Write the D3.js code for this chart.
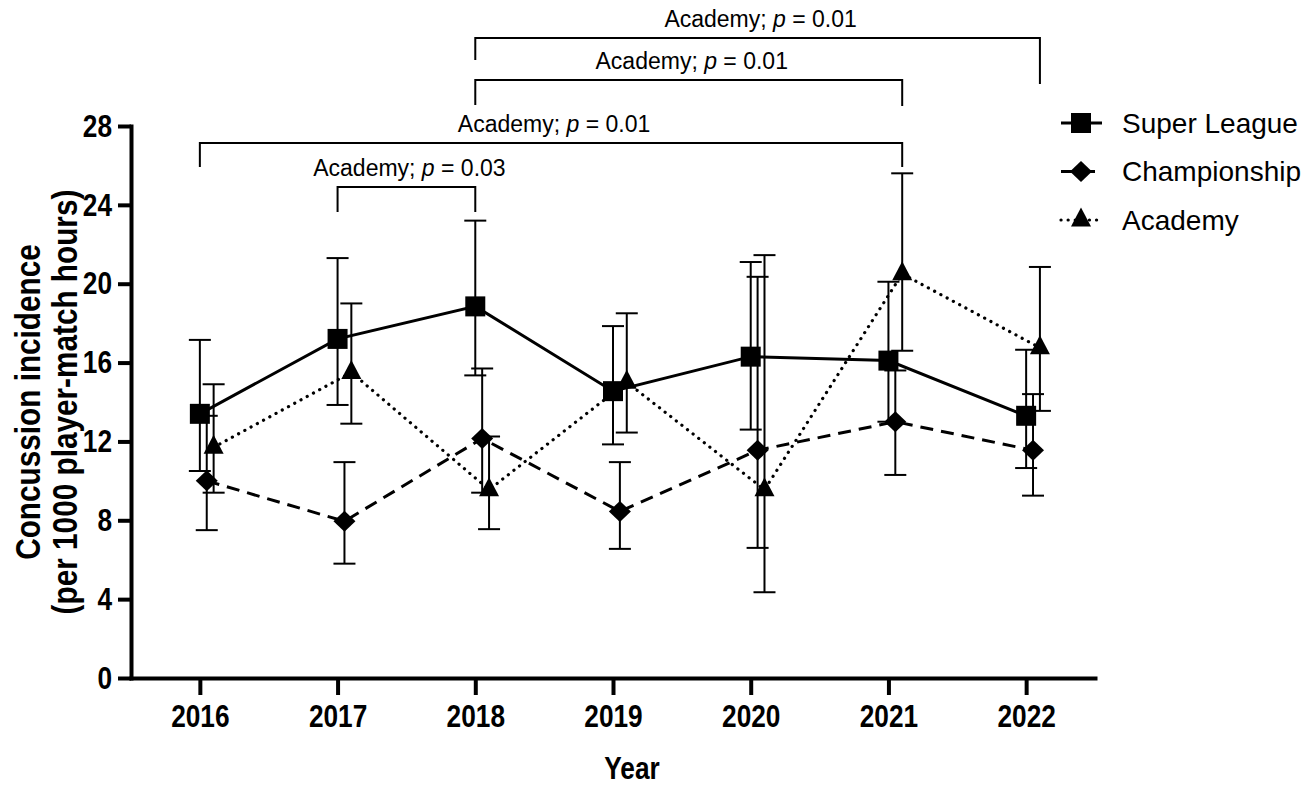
<!DOCTYPE html>
<html>
<head>
<meta charset="utf-8">
<script src="https://cdn.jsdelivr.net/npm/d3@7"></script>
<style>
  body { margin: 0; background: #fff; }
  text { font-family: "Liberation Sans", Arial, Helvetica, sans-serif; fill: #000; }
</style>
</head>
<body>
<div class="chart"></div>
<script>
// years on the x axis
var years = [2016, 2017, 2018, 2019, 2020, 2021, 2022];
var yTicks = [0, 4, 8, 12, 16, 20, 24, 28];

// Super League
var superLeague   = [13.4, 17.2, 18.85, 14.55, 16.3, 16.1, 13.3];
var superLeagueLo = [10.5, 13.85, 15.35, 11.85, 12.6, 13.0, 10.65];
var superLeagueHi = [17.15, 21.3, 23.2, 17.85, 21.1, 20.1, 16.65];

// Championship
var championship   = [10.0, 7.95, 12.15, 8.45, 11.55, 13.0, 11.55];
var championshipLo = [7.5, 5.8, 9.4, 6.55, 6.6, 10.3, 9.25];
var championshipHi = [13.3, 10.95, 15.7, 10.95, 20.35, 15.6, 14.4];

// Academy
var academy   = [11.7, 15.5, 9.55, 15.0, 9.55, 20.5, 16.75];
var academyLo = [9.4, 12.9, 7.55, 12.45, 4.35, 16.6, 13.55];
var academyHi = [14.9, 19.0, 12.25, 18.5, 21.45, 25.6, 20.85];

// significance brackets: from year, to year, label p value
var bracketFrom = [2017, 2016, 2018, 2018];
var bracketTo   = [2018, 2021, 2021, 2022];
var bracketP    = ["0.03", "0.01", "0.01", "0.01"];

var width = 1315, height = 788;

var svg = d3.select('.chart').append('svg')
  .attr('width', width)
  .attr('height', height);

var x = d3.scaleLinear().domain([2015.5, 2022.5]).range([131, 1095]);
var y = d3.scaleLinear().domain([0, 28]).range([678, 126]);

var diamond = { draw: function(ctx) { ctx.moveTo(0, -10.5); ctx.lineTo(11, 0); ctx.lineTo(0, 10.5); ctx.lineTo(-11, 0); ctx.closePath(); } };
var triangle = { draw: function(ctx) { ctx.moveTo(0, -12.5); ctx.lineTo(10, 6.5); ctx.lineTo(-10, 6.5); ctx.closePath(); } };

var series = [
  { name: 'Super League', v: superLeague, lo: superLeagueLo, hi: superLeagueHi, shift: 0,
    symbol: d3.symbol(d3.symbolSquare, 400), dash: null, cap: 'butt', lw: 3 },
  { name: 'Championship', v: championship, lo: championshipLo, hi: championshipHi, shift: 0.05,
    symbol: d3.symbol(diamond), dash: '13,8', cap: 'butt', lw: 3 },
  { name: 'Academy', v: academy, lo: academyLo, hi: academyHi, shift: 0.1,
    symbol: d3.symbol(triangle), dash: '0.1,7', cap: 'round', lw: 3.2 }
];

// axes
var yAxis = svg.append('g')
  .attr('transform', 'translate(131,0)')
  .call(d3.axisLeft(y).tickValues(yTicks).tickSize(13).tickSizeOuter(0).tickPadding(6));

var xAxis = svg.append('g')
  .attr('transform', 'translate(0,678)')
  .call(d3.axisBottom(x).tickValues(years).tickFormat(d3.format('d')).tickSize(17).tickSizeOuter(0).tickPadding(9));

[yAxis, xAxis].forEach(function(a) {
  a.select('.domain').attr('stroke', '#000').attr('stroke-width', 4).attr('stroke-linecap', 'square');
  a.selectAll('.tick line').attr('stroke', '#000').attr('stroke-width', 4);
  a.selectAll('.tick text')
    .style('font-size', '32px').style('font-weight', 'bold').attr('fill', '#000');
});
yAxis.selectAll('.tick text')
  .attr('x', 0)
  .attr('transform', 'translate(-19,0) scale(0.82,1)');
xAxis.selectAll('.tick text')
  .attr('transform', 'scale(0.82,1)');

// axis titles
svg.append('text')
  .attr('transform', 'translate(632,779) scale(0.82,1)')
  .attr('text-anchor', 'middle')
  .style('font-size', '32px').style('font-weight', 'bold')
  .text('Year');

var yTitle = ['Concussion incidence', '(per 1000 player-match hours)'];
svg.selectAll('.ytitle').data(yTitle).enter().append('text')
  .attr('class', 'ytitle')
  .attr('transform', function(d, i) { return 'translate(' + (40 + i * 37) + ',402) rotate(-90) scale(0.85,1)'; })
  .attr('text-anchor', 'middle')
  .style('font-size', '35px').style('font-weight', 'bold')
  .text(function(d) { return d; });

// lines
var line = d3.line();
series.forEach(function(s) {
  svg.append('path')
    .datum(years.map(function(yr, i) { return [x(yr + s.shift), y(s.v[i])]; }))
    .attr('d', line)
    .attr('fill', 'none')
    .attr('stroke', '#000')
    .attr('stroke-width', s.lw)
    .attr('stroke-dasharray', s.dash)
    .attr('stroke-linecap', s.cap);
});

// error bars
series.forEach(function(s) {
  var g = svg.append('g').attr('stroke', '#000').attr('stroke-width', 2);
  years.forEach(function(yr, i) {
    var cx = x(yr + s.shift);
    g.append('line').attr('x1', cx).attr('x2', cx).attr('y1', y(s.lo[i])).attr('y2', y(s.hi[i]));
    [s.lo[i], s.hi[i]].forEach(function(e) {
      g.append('line').attr('x1', cx - 11).attr('x2', cx + 11).attr('y1', y(e)).attr('y2', y(e));
    });
  });
});

// markers
series.forEach(function(s) {
  svg.append('g').selectAll('path')
    .data(years)
    .enter().append('path')
    .attr('d', s.symbol)
    .attr('transform', function(yr, i) { return 'translate(' + x(yr + s.shift) + ',' + y(s.v[i]) + ')'; })
    .attr('fill', '#000');
});

// significance brackets
var bracketY = [187, 143, 80, 38];
var legL = [25, 24, 25, 22];
var legR = [25, 24, 26, 46];
bracketFrom.forEach(function(f, i) {
  var x1 = x(f), x2 = x(bracketTo[i] + (bracketTo[i] >= 2021 ? 0.1 : 0));
  var by = bracketY[i];
  svg.append('path')
    .attr('d', 'M' + x1 + ',' + (by + legL[i]) + 'V' + by + 'H' + x2 + 'V' + (by + legR[i]))
    .attr('fill', 'none').attr('stroke', '#000').attr('stroke-width', 2);
  var t = svg.append('text')
    .attr('x', (x1 + x2) / 2 + 3).attr('y', by - 11)
    .attr('text-anchor', 'middle')
    .style('font-size', '23px');
  t.append('tspan').text('Academy; ');
  t.append('tspan').style('font-style', 'italic').text('p');
  t.append('tspan').text(' = ' + bracketP[i]);
});

// legend
var legend = svg.append('g').selectAll('g')
  .data(series)
  .enter().append('g')
  .attr('transform', function(d, i) { return 'translate(1061,' + (123 + i * 48.5) + ')'; });
legend.append('line')
  .attr('x1', 0).attr('x2', 41)
  .attr('stroke', '#000')
  .attr('stroke-width', function(d) { return d.lw; })
  .attr('stroke-dasharray', function(d) { return d.dash; })
  .attr('stroke-linecap', function(d) { return d.cap; });
legend.append('path')
  .attr('d', function(d) { return d.symbol(); })
  .attr('transform', 'translate(20,0)');
legend.append('text')
  .attr('x', 61).attr('dy', '0.35em')
  .style('font-size', '28px')
  .text(function(d) { return d.name; });
</script>
</body>
</html>
